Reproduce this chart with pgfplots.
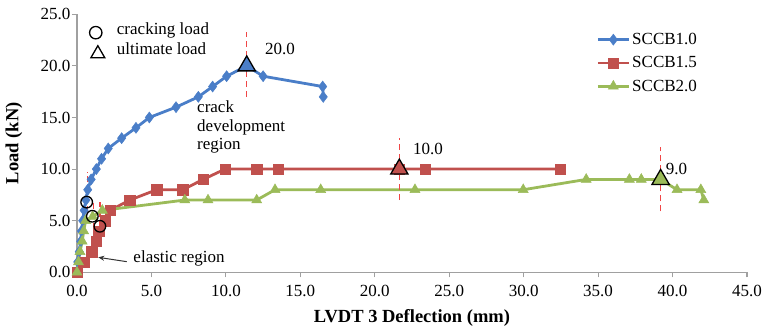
\documentclass[border=0pt]{standalone}
\usepackage{fontspec}
\setmainfont{Liberation Serif}
\usepackage{pgfplots}
\pgfplotsset{compat=1.18}
\usetikzlibrary{arrows.meta}
\definecolor{cblue}{RGB}{74,126,200}
\definecolor{cred}{RGB}{192,80,77}
\definecolor{cgreen}{RGB}{155,187,89}
\definecolor{cdash}{RGB}{240,70,70}
\definecolor{caxis}{RGB}{160,160,160}
\begin{document}
\begin{tikzpicture}[font=\fontsize{17}{20.4}\selectfont]
\begin{axis}[
  at={(0,0)}, anchor=south west,
  scale only axis, width=670pt, height=258pt,
  xmin=0, xmax=45, ymin=0, ymax=25,
  xtick={0,5,...,45}, ytick={0,5,...,25},
  axis x line*=bottom, axis y line*=left,
  axis line style={caxis, line width=1.1pt},
  tick align=outside, major tick length=5pt,
  tick style={caxis, line width=1.1pt},
  minor tick num=0,
  clip=false,
  /pgf/number format/assume math mode=true,
  /pgf/number format/.cd, fixed, zerofill, precision=1, /pgfplots/.cd,
  ticklabel style={font=\fontsize{17}{20.4}\selectfont},
  xticklabel style={yshift=-4.5pt},
  yticklabel style={xshift=2pt},
  xlabel={\textbf{LVDT 3 Deflection (mm)}},
  ylabel={\textbf{Load (kN)}},
  every axis x label/.style={at={(axis description cs:0.5,-0.177)}, anchor=center, font=\fontsize{18.5}{22}\selectfont},
  every axis y label/.style={at={(axis description cs:-0.094,0.5)}, rotate=90, anchor=center, font=\fontsize{18.5}{22}\selectfont},
  legend style={draw=none, fill=none, at={(0.775,0.935)}, anchor=north west,
    font=\fontsize{17}{20.4}\selectfont, row sep=6.5pt, inner sep=0pt,
    /tikz/every even column/.append style={column sep=0pt}},
  legend cell align=left,
  legend image code/.code={\draw[mark repeat=2,mark phase=2,#1] plot coordinates {(0pt,0pt) (15.5pt,0pt) (31pt,0pt)};},
]
% SCCB1.0
\addplot[cblue, line width=2.8pt, mark=diamond*, mark size=5.5pt, mark options={solid, fill=cblue, draw=cblue, line width=0.5pt}]
coordinates {(0,0) (0.05,1) (0.15,2) (0.25,3) (0.3,4) (0.38,5) (0.48,6) (0.6,7) (0.72,8) (0.95,9) (1.3,10) (1.65,11) (2.1,12) (3.0,13) (3.96,14) (4.86,15) (6.65,16) (8.15,17) (9.11,18) (10.05,19) (11.4,20) (12.5,19) (16.5,18) (16.54,17)};
\addlegendentry{SCCB1.0}
% SCCB1.5
\addplot[cred, line width=2.8pt, mark=square*, mark size=5.2pt, mark options={solid, fill=cred, draw=cred, line width=0.5pt}]
coordinates {(0,0) (0.45,1) (1.0,2) (1.3,3) (1.45,4) (1.9,5) (2.22,6) (3.55,7) (5.35,8) (7.1,8) (8.48,9) (9.94,10) (12.07,10) (13.52,10) (21.65,10) (23.37,10) (32.44,10)};
\addlegendentry{SCCB1.5}
% SCCB2.0
\addplot[cgreen, line width=2.8pt, mark=triangle*, mark size=5.8pt, mark options={solid, fill=cgreen, draw=cgreen, line width=0.5pt}]
coordinates {(0,0) (0.1,1) (0.2,2) (0.35,3) (0.45,4) (0.58,5) (1.05,5.4) (1.7,6) (7.24,7) (8.8,7) (12.07,7) (13.3,8) (16.37,8) (22.7,8) (29.97,8) (34.2,9) (37.1,9) (37.9,9) (39.2,9) (40.3,8) (41.9,8) (42.1,7)};
\addlegendentry{SCCB2.0}
% dashed marker lines
\addplot[forget plot, cdash, line width=1.5pt, dash pattern=on 6pt off 4pt] coordinates {(11.4,17) (11.4,23.3)};
\addplot[forget plot, cdash, line width=1.5pt, dash pattern=on 6pt off 4pt] coordinates {(21.65,7) (21.65,13)};
\addplot[forget plot, cdash, line width=1.5pt, dash pattern=on 6pt off 4pt] coordinates {(39.2,5.9) (39.2,12.1)};
\addplot[forget plot, cdash, line width=1.3pt, dash pattern=on 6pt off 4pt] coordinates {(0.72,5.8) (0.72,9.7)};
\addplot[forget plot, cdash, line width=1.3pt, dash pattern=on 6pt off 4pt] coordinates {(1.1,4.2) (1.1,7.0)};
\addplot[forget plot, cdash, line width=1.3pt, dash pattern=on 6pt off 4pt] coordinates {(1.54,3.4) (1.54,6.8)};
% ultimate loads
\addplot[forget plot, only marks, mark=triangle*, mark size=10pt, mark options={fill=cblue, draw=black, line width=1.3pt}] coordinates {(11.4,20)};
\addplot[forget plot, only marks, mark=triangle*, mark size=10pt, mark options={fill=cred, draw=black, line width=1.3pt}] coordinates {(21.65,10)};
\addplot[forget plot, only marks, mark=triangle*, mark size=10pt, mark options={fill=cgreen, draw=black, line width=1.3pt}] coordinates {(39.2,9)};
% cracking loads
\addplot[forget plot, only marks, mark=o, mark size=5.8pt, mark options={draw=black, line width=1.3pt}] coordinates {(0.65,6.8) (1.03,5.43) (1.54,4.46)};
% key symbols
\addplot[forget plot, only marks, mark=o, mark size=6.2pt, mark options={draw=black, line width=1.3pt}] coordinates {(1.26,23.22)};
\addplot[forget plot, only marks, mark=triangle, mark size=8pt, mark options={draw=black, line width=1.3pt}] coordinates {(1.4,21.18)};
\node[anchor=base west, inner sep=0pt] at (axis cs:2.67,23.0) {cracking load};
\node[anchor=base west, inner sep=0pt] at (axis cs:2.67,21.15) {ultimate load};
% value labels
\node[inner sep=0pt] at (axis cs:13.63,21.66) {20.0};
\node[inner sep=0pt] at (axis cs:23.57,11.95) {10.0};
\node[inner sep=0pt] at (axis cs:40.27,10.0) {9.0};
% region labels
\node[anchor=base west, inner sep=0pt] at (axis cs:8.06,15.5) {crack};
\node[anchor=base west, inner sep=0pt] at (axis cs:8.06,13.69) {development};
\node[anchor=base west, inner sep=0pt] at (axis cs:8.06,11.94) {region};
\node[anchor=base west, inner sep=0pt] at (axis cs:3.78,0.97) {elastic region};
\draw[-{Stealth[length=6pt,width=5pt]}, line width=1pt, black!80] (axis cs:3.34,1.03) -- (axis cs:1.43,1.45);
\end{axis}
\pgfresetboundingbox
\useasboundingbox (-77pt,-56.7pt) rectangle (689pt,272.3pt);
\end{tikzpicture}
\end{document}
